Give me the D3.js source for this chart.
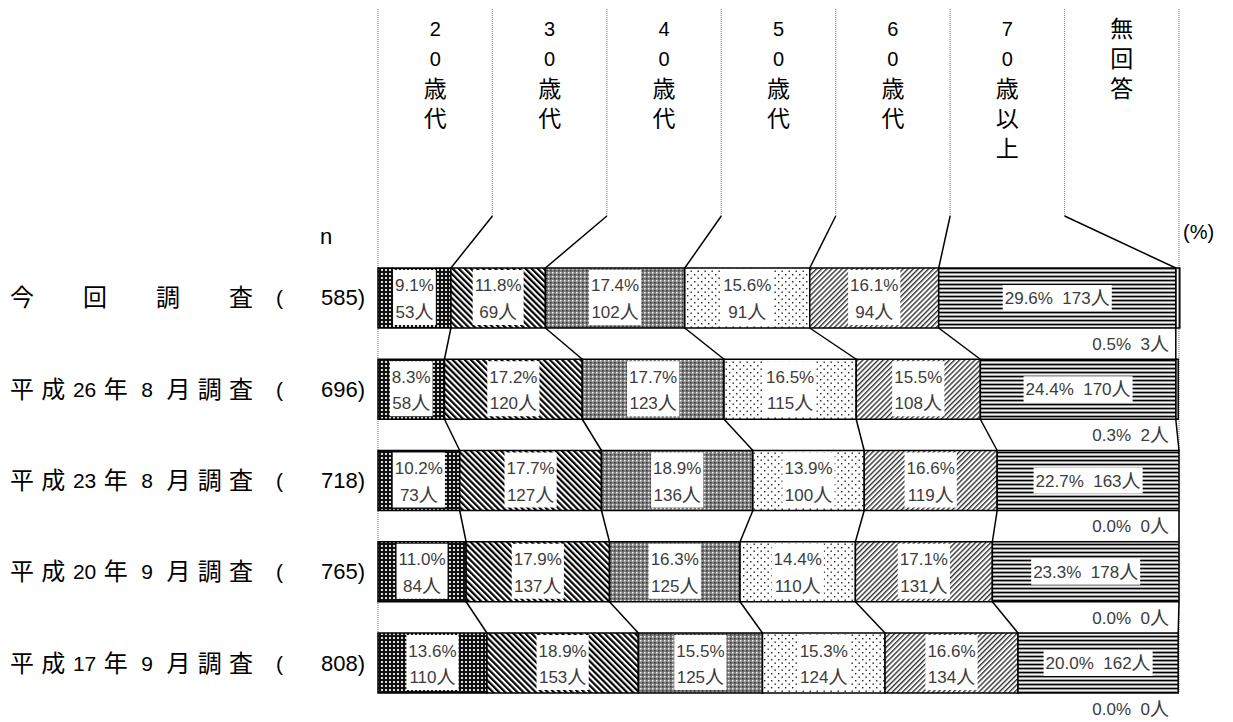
<!DOCTYPE html>
<html>
<head>
<meta charset="utf-8">
<script src="https://cdn.jsdelivr.net/npm/d3@7"></script>
<style>
  body { margin: 0; background: #fff; }
</style>
</head>
<body>
<div id="chart"></div>
<script>
const width = 1233;
const height = 722;

const categories = ["20歳代", "30歳代", "40歳代", "50歳代", "60歳代", "70歳以上", "無回答"];
const headerLines = [
  ["2", "0", "歳", "代"],
  ["3", "0", "歳", "代"],
  ["4", "0", "歳", "代"],
  ["5", "0", "歳", "代"],
  ["6", "0", "歳", "代"],
  ["7", "0", "歳", "以", "上"],
  ["無", "回", "答"]
];

const surveys = ["今回調査", "平成26年8月調査", "平成23年8月調査", "平成20年9月調査", "平成17年9月調査"];
const surveyTokens = [
  ["今", "回", "調", "査"],
  ["平", "成", "26", "年", "8", "月", "調", "査"],
  ["平", "成", "23", "年", "8", "月", "調", "査"],
  ["平", "成", "20", "年", "9", "月", "調", "査"],
  ["平", "成", "17", "年", "9", "月", "調", "査"]
];
const nValues = [585, 696, 718, 765, 808];

const pctR07 = [9.1, 11.8, 17.4, 15.6, 16.1, 29.6, 0.5];
const pctH26 = [8.3, 17.2, 17.7, 16.5, 15.5, 24.4, 0.3];
const pctH23 = [10.2, 17.7, 18.9, 13.9, 16.6, 22.7, 0.0];
const pctH20 = [11.0, 17.9, 16.3, 14.4, 17.1, 23.3, 0.0];
const pctH17 = [13.6, 18.9, 15.5, 15.3, 16.6, 20.0, 0.0];

const cntR07 = [53, 69, 102, 91, 94, 173, 3];
const cntH26 = [58, 120, 123, 115, 108, 170, 2];
const cntH23 = [73, 127, 136, 100, 119, 163, 0];
const cntH20 = [84, 137, 125, 110, 131, 178, 0];
const cntH17 = [110, 153, 125, 124, 134, 162, 0];

const pctRows = [pctR07, pctH26, pctH23, pctH20, pctH17];
const cntRows = [cntR07, cntH26, cntH23, cntH20, cntH17];

const fontLatin = "'Liberation Sans', Arial, 'Noto Sans CJK JP', sans-serif";
const labelColor = "#3c3c3c";
const isDigit = s => /^[0-9]+$/.test(s);

const svg = d3.select("#chart").append("svg")
  .attr("width", width)
  .attr("height", height)
  .attr("font-family", fontLatin);

// hatch patterns, one per age group
const defs = svg.append("defs");

function pattern(id, w, h, transform) {
  const p = defs.append("pattern")
    .attr("id", id)
    .attr("patternUnits", "userSpaceOnUse")
    .attr("width", w)
    .attr("height", h);
  if (transform) p.attr("patternTransform", transform);
  return p;
}

let p = pattern("p0", 4, 4);
p.append("rect").attr("width", 4).attr("height", 4).attr("fill", "#111");
p.append("rect").attr("x", 1).attr("y", 1).attr("width", 2).attr("height", 2).attr("fill", "#ddd");

p = pattern("p1", 4.3, 4.3, "rotate(-45)");
p.append("rect").attr("width", 4.3).attr("height", 4.3).attr("fill", "#fff");
p.append("rect").attr("width", 2.2).attr("height", 4.3).attr("fill", "#000");

p = pattern("p2", 4, 4);
p.append("rect").attr("width", 4).attr("height", 4).attr("fill", "#808080");
p.append("rect").attr("x", 0).attr("y", 0).attr("width", 1.5).attr("height", 1.5).attr("fill", "#eee");
p.append("rect").attr("x", 2).attr("y", 2).attr("width", 1.5).attr("height", 1.5).attr("fill", "#333");

p = pattern("p3", 7, 7);
p.append("rect").attr("width", 7).attr("height", 7).attr("fill", "#fff");
p.append("rect").attr("x", 1).attr("y", 1).attr("width", 1.4).attr("height", 1.4).attr("fill", "#222");
p.append("rect").attr("x", 4.5).attr("y", 4.5).attr("width", 1.4).attr("height", 1.4).attr("fill", "#222");

p = pattern("p4", 3.6, 3.6, "rotate(45)");
p.append("rect").attr("width", 3.6).attr("height", 3.6).attr("fill", "#fff");
p.append("rect").attr("width", 1.4).attr("height", 3.6).attr("fill", "#333");

p = pattern("p5", 4, 4);
p.append("rect").attr("width", 4).attr("height", 4).attr("fill", "#fff");
p.append("rect").attr("y", 0).attr("width", 4).attr("height", 1.3).attr("fill", "#000");
p.append("rect").attr("y", 1.3).attr("width", 4).attr("height", 0.8).attr("fill", "#888");
p.append("rect").attr("y", 3.2).attr("width", 4).attr("height", 0.8).attr("fill", "#888");

p = pattern("p6", 2, 2);
p.append("rect").attr("width", 2).attr("height", 2).attr("fill", "#fff");
p.append("rect").attr("width", 1).attr("height", 2).attr("fill", "#999");

// scales
const x = d3.scaleLinear().domain([0, 100]).range([378, 1179]);
const y = d3.scaleBand().domain(surveys).range([268, 693]).paddingInner(0.3425);
const col = d3.scaleBand().domain(categories).range([378, 1179]);
const bw = y.bandwidth();

const rows = surveys.map((s, i) => {
  let cum = 0;
  const segs = pctRows[i].map((v, k) => {
    const seg = { survey: s, k, pct: v, count: cntRows[i][k], x0: cum, x1: cum + v };
    cum += v;
    return seg;
  });
  return { survey: s, i, segs };
});

// column header text
const header = svg.append("g").attr("text-anchor", "middle");
categories.forEach((c, k) => {
  header.selectAll(null)
    .data(headerLines[k])
    .enter().append("text")
    .attr("x", col(c) + col.bandwidth() / 2)
    .attr("y", (d, j) => 29 + j * 30)
    .attr("font-size", d => isDigit(d) ? 20 : 23)
    .attr("dominant-baseline", "central")
    .text(d => d);
});

// dotted column dividers and axes
const dotted = svg.append("g")
  .attr("stroke", "#888")
  .attr("stroke-width", 1.2)
  .attr("stroke-dasharray", "1,1");
categories.slice(1).forEach(c => {
  dotted.append("line")
    .attr("x1", col(c)).attr("x2", col(c))
    .attr("y1", 9).attr("y2", 216);
});
[0, 100].forEach(v => {
  dotted.append("line")
    .attr("x1", x(v)).attr("x2", x(v))
    .attr("y1", 9).attr("y2", 693);
});

// leader lines from header to first bar, and between bars
const leaders = svg.append("g").attr("stroke", "#000").attr("stroke-width", 1.5).attr("fill", "none");
categories.slice(1).forEach((c, k) => {
  leaders.append("line")
    .attr("x1", col(c)).attr("y1", 216)
    .attr("x2", x(rows[0].segs[k + 1].x0)).attr("y2", y(surveys[0]));
});
rows.slice(0, -1).forEach((r, i) => {
  const next = rows[i + 1];
  d3.range(1, categories.length).forEach(k => {
    leaders.append("line")
      .attr("x1", x(r.segs[k].x0)).attr("y1", y(r.survey) + bw)
      .attr("x2", x(next.segs[k].x0)).attr("y2", y(next.survey));
  });
});

// count text: digits then a slightly larger 人
function countText(t, pre, n) {
  t.append("tspan").text(pre + n);
  t.append("tspan").attr("font-size", 19).text("人");
}

// 無回答 labels under each bar
const naLabels = svg.append("g").attr("font-size", 17).attr("fill", labelColor);
rows.forEach(r => {
  const seg = r.segs[6];
  const g = naLabels.append("g");
  const box = g.append("rect").attr("fill", "#fff");
  const t = g.append("text")
    .attr("x", 1169)
    .attr("y", y(r.survey) + bw + 16)
    .attr("text-anchor", "end")
    .attr("dominant-baseline", "central");
  countText(t, seg.pct.toFixed(1) + "%\u00a0\u00a0", seg.count);
  const b = t.node().getBBox();
  box.attr("x", b.x - 2).attr("y", b.y).attr("width", b.width + 4).attr("height", b.height);
});

// bar segments
const bars = svg.append("g");
rows.forEach(r => {
  bars.append("g")
    .selectAll("rect")
    .data(r.segs)
    .enter().append("rect")
    .attr("x", d => x(d.x0))
    .attr("y", y(r.survey))
    .attr("width", d => x(d.x1) - x(d.x0))
    .attr("height", bw)
    .attr("fill", d => `url(#p${d.k})`)
    .attr("stroke", "#000")
    .attr("stroke-width", 1.5);
});

// in-bar value labels
const inLabels = svg.append("g").attr("font-size", 17).attr("fill", labelColor).attr("text-anchor", "middle");
rows.forEach(r => {
  const top = y(r.survey);
  const cy = top + bw / 2;
  r.segs.slice(0, 6).forEach(seg => {
    const cx = (x(seg.x0) + x(seg.x1)) / 2;
    const g = inLabels.append("g");
    const box = g.append("rect").attr("fill", "#fff");
    if (seg.k < 5) {
      const t1 = g.append("text").attr("x", cx).attr("y", cy - 12).attr("dominant-baseline", "central")
        .text(seg.pct.toFixed(1) + "%");
      const t2 = g.append("text").attr("x", cx).attr("y", cy + 14).attr("dominant-baseline", "central");
      countText(t2, "", seg.count);
      const bb = [t1, t2].map(t => t.node().getBBox());
      const x0 = d3.min(bb, b => b.x), x1 = d3.max(bb, b => b.x + b.width);
      box.attr("x", x0 - 2).attr("y", top + 2).attr("width", x1 - x0 + 4).attr("height", bw - 5);
    } else {
      const t = g.append("text").attr("x", cx).attr("y", cy).attr("dominant-baseline", "central");
      countText(t, seg.pct.toFixed(1) + "%\u00a0\u00a0", seg.count);
      const b = t.node().getBBox();
      box.attr("x", b.x - 2).attr("y", cy - 13).attr("width", b.width + 4).attr("height", 26);
    }
  });
});

// row labels on the left
const rowLabels = svg.append("g").attr("fill", "#000");
rows.forEach((r, i) => {
  const cy = y(r.survey) + bw / 2;
  const tok = surveyTokens[i];
  const px = d3.scalePoint().domain(d3.range(tok.length)).range([22, 241]);
  rowLabels.selectAll(null)
    .data(tok)
    .enter().append("text")
    .attr("x", (d, j) => px(j))
    .attr("y", cy)
    .attr("font-size", d => isDigit(d) ? 21 : 24)
    .attr("text-anchor", "middle")
    .attr("dominant-baseline", "central")
    .text(d => d);
  rowLabels.append("text")
    .attr("x", 276).attr("y", cy)
    .attr("font-size", 21)
    .attr("dominant-baseline", "central")
    .text("(");
  rowLabels.append("text")
    .attr("x", 365).attr("y", cy)
    .attr("font-size", 22)
    .attr("text-anchor", "end")
    .attr("dominant-baseline", "central")
    .text(nValues[i] + ")");
});

svg.append("text")
  .attr("x", 326).attr("y", 236)
  .attr("font-size", 22)
  .attr("text-anchor", "middle")
  .attr("dominant-baseline", "central")
  .text("n");

svg.append("text")
  .attr("x", 1183).attr("y", 232)
  .attr("font-size", 20)
  .attr("dominant-baseline", "central")
  .text("(%)");
</script>
</body>
</html>
